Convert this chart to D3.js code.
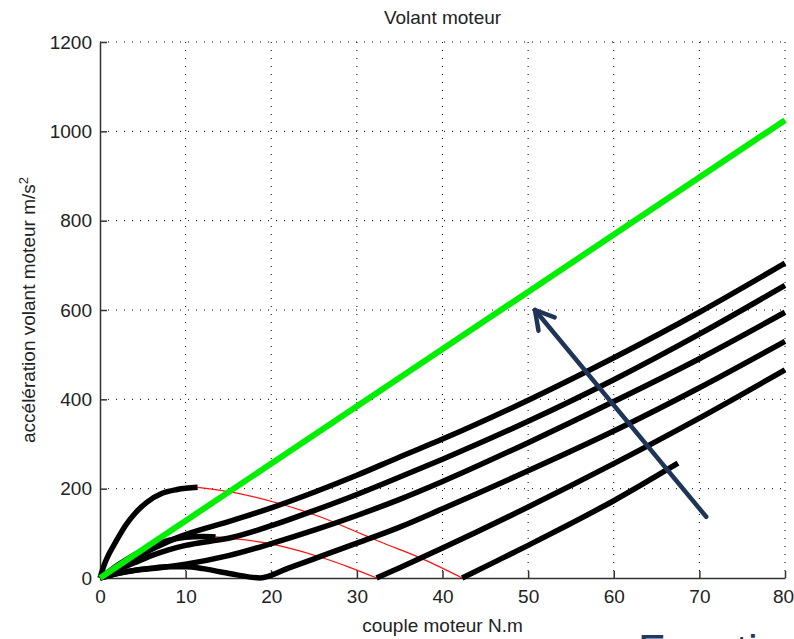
<!DOCTYPE html>
<html>
<head>
<meta charset="utf-8">
<script src="https://cdn.jsdelivr.net/npm/d3@7"></script>
<style>
  body { margin: 0; background: #fff; }
  svg text { font-family: "Liberation Sans", Arial, sans-serif; fill: #222; }
</style>
</head>
<body>
<div id="chart"></div>
<script>
// valeurs : [couple N.m, accélération m/s²]
const xTicks = [0, 10, 20, 30, 40, 50, 60, 70, 80];
const yTicks = [0, 200, 400, 600, 800, 1000, 1200];

const droiteVerte = [[0, 0], [80, 1025]];

const courbeA = [[0, 0], [0.5, 30], [1, 52], [1.75, 78], [3, 118], [4.1, 145], [5.5, 170], [7.2, 189], [9, 198], [11.4, 203]];
const courbeA2 = [[42.3, 0], [46, 35], [50, 73], [55, 122], [60, 173], [67.5, 257]];
const courbeB = [[0, 0], [1, 14], [2, 28], [3, 40], [4, 52], [6, 70], [8, 84], [10, 91], [12, 93], [13.5, 92]];
const courbeB2 = [[32.3, 0], [35, 23], [40, 67], [50, 159], [60, 256], [70, 358], [80, 466]];
const courbeC = [[0, 0], [2, 10], [4, 17], [6, 22], [8, 25], [10, 25], [12, 21], [14, 14], [16, 7], [18.7, 0], [22, 22], [26, 50], [30, 78], [35, 114], [40, 155], [50, 240], [60, 329], [70, 426], [80, 530]];
const courbeD = [[0, 0], [2, 10], [4, 17], [7, 23], [10, 31], [15, 50], [20, 77], [25, 107], [30, 140], [35, 176], [40, 216], [50, 303], [60, 395], [70, 491], [80, 595]];
const courbeE = [[0, 0], [2, 18], [4, 34], [6, 50], [8, 63], [10, 73], [13, 83], [15, 89], [20, 117], [25, 151], [30, 187], [35, 226], [40, 266], [50, 351], [60, 444], [70, 546], [80, 655]];
const courbeF = [[0, 0], [2, 24], [4, 45], [6, 64], [8, 82], [10, 97], [15, 126], [20, 157], [25, 192], [30, 230], [35, 271], [40, 311], [50, 398], [60, 493], [70, 595], [80, 705]];

const rouge1 = [[11.4, 203], [16, 190], [20.7, 168], [25.7, 137], [30, 103], [32.7, 81], [37.4, 45], [42.3, 0]];
const rouge2 = [[13.5, 92], [19.5, 78], [25.7, 47], [29, 25], [32.3, 0]];

const fleche = [[70.8, 137], [50.8, 600]];

const W = 794, H = 639;
const margin = { top: 42, right: 9, bottom: 61, left: 100 };
const width = W - margin.left - margin.right;
const height = H - margin.top - margin.bottom;

const svg = d3.select('#chart').append('svg')
    .attr('width', W)
    .attr('height', H);

const g = svg.append('g')
    .attr('transform', `translate(${margin.left},${margin.top})`);

const x = d3.scaleLinear().domain([0, 80]).range([0, width]);
const y = d3.scaleLinear().domain([0, 1200]).range([height, 0]);

// grille pointillée
g.append('g')
    .selectAll('line')
    .data(xTicks.slice(1))
    .join('line')
    .attr('x1', d => x(d)).attr('x2', d => x(d))
    .attr('y1', 0).attr('y2', height)
    .attr('stroke', '#000')
    .attr('stroke-width', 1)
    .attr('stroke-dasharray', '1,7');

g.append('g')
    .selectAll('line')
    .data(yTicks.slice(1))
    .join('line')
    .attr('x1', 0).attr('x2', width)
    .attr('y1', d => y(d)).attr('y2', d => y(d))
    .attr('stroke', '#000')
    .attr('stroke-width', 1)
    .attr('stroke-dasharray', '1,7');

// axes
const xAxis = g.append('g')
    .attr('transform', `translate(0,${height})`)
    .call(d3.axisBottom(x).tickValues(xTicks).tickFormat(d3.format('d'))
        .tickSize(-7).tickPadding(12).tickSizeOuter(0));
const yAxis = g.append('g')
    .call(d3.axisLeft(y).tickValues(yTicks).tickFormat(d3.format('d'))
        .tickSize(-7).tickPadding(8).tickSizeOuter(0));

[xAxis, yAxis].forEach(a => {
    a.select('.domain').attr('stroke', '#333').attr('stroke-width', 1.5);
    a.selectAll('.tick line').attr('stroke', '#333').attr('stroke-width', 1.5);
    a.selectAll('.tick text')
        .style('font-size', '19px')
        .attr('fill', '#222');
});
xAxis.selectAll('.tick text').attr('dy', '0.71em');
// le dernier libellé touche le bord droit
xAxis.selectAll('.tick text').filter(d => d === 80).attr('dx', -2);

const line = d3.line()
    .x(d => x(d[0]))
    .y(d => y(d[1]))
    .curve(d3.curveMonotoneX);

// courbes rouges
[rouge1, rouge2].forEach(c => {
    g.append('path')
        .datum(c)
        .attr('d', line)
        .attr('fill', 'none')
        .attr('stroke', '#ff1010')
        .attr('stroke-width', 1.2);
});

// courbes noires
[courbeA, courbeA2, courbeB, courbeB2, courbeC, courbeD, courbeE, courbeF].forEach(c => {
    g.append('path')
        .datum(c)
        .attr('d', line)
        .attr('fill', 'none')
        .attr('stroke', '#000')
        .attr('stroke-width', 5.5)
        .attr('stroke-linejoin', 'round');
});

// droite verte
g.append('path')
    .datum(droiteVerte)
    .attr('d', line)
    .attr('fill', 'none')
    .attr('stroke', '#00ee00')
    .attr('stroke-width', 6);

// flèche
const [p0, p1] = fleche.map(d => [x(d[0]), y(d[1])]);
const ang = Math.atan2(p1[1] - p0[1], p1[0] - p0[0]);
const L = 21, a = Math.PI / 6;
const arrow = g.append('g')
    .attr('stroke', '#1f3557')
    .attr('stroke-width', 4.5)
    .attr('stroke-linecap', 'round')
    .attr('fill', 'none');
arrow.append('line')
    .attr('x1', p0[0]).attr('y1', p0[1])
    .attr('x2', p1[0]).attr('y2', p1[1]);
arrow.append('polyline')
    .attr('stroke-linejoin', 'round')
    .attr('points', [
        [p1[0] - L * Math.cos(ang - a), p1[1] - L * Math.sin(ang - a)],
        p1,
        [p1[0] - L * Math.cos(ang + a), p1[1] - L * Math.sin(ang + a)]
    ].map(p => p.join(',')).join(' '));

// textes
svg.append('text')
    .attr('x', margin.left + width / 2)
    .attr('y', 24)
    .attr('text-anchor', 'middle')
    .style('font-size', '19px')
    .text('Volant moteur');

svg.append('text')
    .attr('x', margin.left + width / 2)
    .attr('y', 632)
    .attr('text-anchor', 'middle')
    .style('font-size', '19px')
    .text('couple moteur N.m');

const yl = svg.append('text')
    .attr('transform', `translate(35,${margin.top + height / 2}) rotate(-90)`)
    .attr('text-anchor', 'middle')
    .style('font-size', '19px');
yl.append('tspan').text('accélération volant moteur m/s');
yl.append('tspan').attr('baseline-shift', 'super').style('font-size', '13px').text('2');

// titre de diapositive coupé en bas de l'image
svg.append('text')
    .attr('x', 638)
    .attr('y', 666)
    .style('font-size', '44px')
    .style('fill', '#1f3864')
    .text('Fonctionnement');
</script>
</body>
</html>
